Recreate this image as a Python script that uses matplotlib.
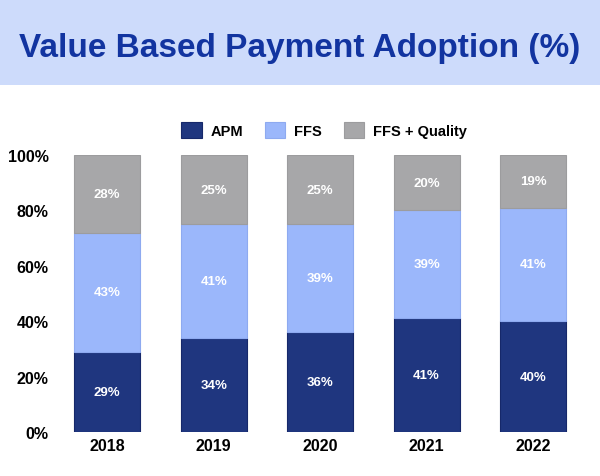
import numpy as np
import matplotlib.pyplot as plt
from matplotlib.patches import Rectangle

plt.rcParams['font.family'] = ['Liberation Sans', 'DejaVu Sans']

years = ['2018', '2019', '2020', '2021', '2022']
apm = [29, 34, 36, 41, 40]
ffs = [43, 41, 39, 39, 41]
ffs_quality = [28, 25, 25, 20, 19]

series = [('APM', apm, '#1f367f', '#16286a'),
          ('FFS', ffs, '#9bb7fb', '#8eaaf0'),
          ('FFS + Quality', ffs_quality, '#a7a7a9', '#9c9c9e')]

fig = plt.figure(figsize=(6, 4.77), dpi=100)

# title band
fig.patches.append(Rectangle((0, (477 - 86) / 477), 1, 86 / 477, transform=fig.transFigure,
                             facecolor='#cddbfb', edgecolor='none', zorder=0))
fig.text(0.5, (477 - 48) / 477, 'Value Based Payment Adoption (%)', ha='center', va='center',
         fontsize=24, fontweight='bold', color='#1234a0')

ax = fig.add_axes([0.09, (477 - 433) / 477, 0.887, (433 - 156) / 477])
x = np.arange(len(years))
bottom = np.zeros(len(years))
handles = []
for name, vals, col, edge in series:
    b = ax.bar(x, vals, width=0.62, bottom=bottom, color=col, edgecolor=edge, linewidth=0.8, label=name)
    handles.append(b)
    for xi, v, bt in zip(x, vals, bottom):
        ax.text(xi, bt + v / 2, f'{v}%', ha='center', va='center', color='white',
                fontsize=9.5, fontweight='bold')
    bottom += np.array(vals)

ax.set_xlim(-0.5, len(years) - 0.5)
ax.set_ylim(0, 100)
ax.set_yticks([0, 20, 40, 60, 80, 100])
ax.set_yticklabels([f'{t}%' for t in range(0, 101, 20)])
ax.set_xticks(x)
ax.set_xticklabels(years)
for lab in ax.get_xticklabels() + ax.get_yticklabels():
    lab.set_fontweight('bold')
    lab.set_fontsize(11.5)
ax.tick_params(length=0, pad=4)
for s in ax.spines.values():
    s.set_visible(False)

fig.legend(handles=handles, loc='center', bbox_to_anchor=(0.54, (477 - 131) / 477), ncol=3,
           frameon=False, prop={'weight': 'bold', 'size': 10.5}, handlelength=1.4, handleheight=1.4,
           columnspacing=1.5, handletextpad=0.6)

fig.savefig('out.png', dpi=100)
